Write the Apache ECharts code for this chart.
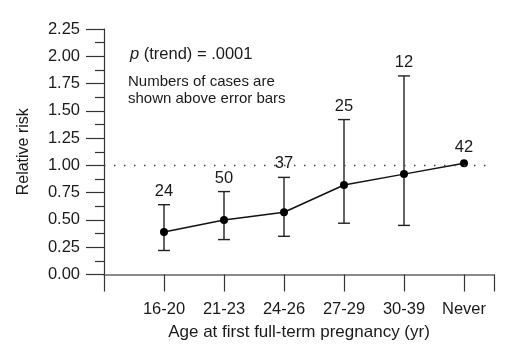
<!DOCTYPE html>
<html><head><meta charset="utf-8">
<script src="https://cdn.jsdelivr.net/npm/echarts@6/dist/echarts.min.js"></script>
<style>html,body{margin:0;padding:0;background:#fff}#c{width:512px;height:360px}</style>
</head><body><div id="c"></div>
<script>
var categories = ['16-20', '21-23', '24-26', '27-29', '30-39', 'Never'];
var relativeRisk = [0.39, 0.50, 0.57, 0.82, 0.92, 1.02];
var lowerCI = [0.22, 0.32, 0.35, 0.47, 0.45, null];
var upperCI = [0.64, 0.76, 0.89, 1.42, 1.82, null];
var cases = [24, 50, 37, 25, 12, 42];
var yTicks = ['0.00','0.25','0.50','0.75','1.00','1.25','1.50','1.75','2.00','2.25'];

var FONT = 'Liberation Sans, Arial, sans-serif';
var INK = '#1a1a1a';

var pts = relativeRisk.map(function (v, i) { return [i + 1, v]; });
var errData = categories.map(function (c, i) { return [i + 1, lowerCI[i], upperCI[i], relativeRisk[i], cases[i]]; });

var chart = echarts.init(document.getElementById('c'), null, {renderer: 'canvas'});
chart.setOption({
  animation: false,
  backgroundColor: '#fff',
  grid: {left: 104, right: 18, top: 29, bottom: 85.5, containLabel: false},
  xAxis: {
    type: 'value', min: 0, max: 6.5, interval: 1,
    axisLine: {show: true, lineStyle: {color: '#666', width: 1.6}},
    axisTick: {show: true, inside: false, length: 17, lineStyle: {color: '#333', width: 1.2}},
    splitLine: {show: false},
    axisLabel: {
      margin: 26, color: INK, fontFamily: FONT, fontSize: 16.5,
      formatter: function (v) { var i = Math.round(v) - 1; return (i >= 0 && i < categories.length) ? categories[i] : ''; }
    },
    name: 'Age at first full-term pregnancy (yr)', nameLocation: 'middle', nameGap: 49,
    nameTextStyle: {color: INK, fontFamily: FONT, fontSize: 17}
  },
  yAxis: {
    type: 'value', min: 0, max: 2.25, interval: 0.25,
    axisLine: {show: true, lineStyle: {color: '#333', width: 1.2}},
    axisTick: {show: true, inside: false, length: 18, lineStyle: {color: '#333', width: 1.2}},
    minorTick: {show: true, splitNumber: 2, length: 9, lineStyle: {color: '#333', width: 1.2}},
    splitLine: {show: false},
    axisLabel: {
      margin: 24, color: INK, fontFamily: FONT, fontSize: 16.5,
      formatter: function (v) { return yTicks[Math.round(v / 0.25)]; }
    },
    name: 'Relative risk', nameLocation: 'middle', nameGap: 72,
    nameTextStyle: {color: INK, fontFamily: FONT, fontSize: 16}
  },
  graphic: [
    {type: 'text', left: 130, top: 46, style: {
      text: '{i|p} (trend) = .0001', font: '16.5px ' + FONT, fill: INK,
      rich: {i: {fontStyle: 'italic', fontSize: 16.5, fontFamily: FONT, fill: INK}}
    }},
    {type: 'text', left: 128, top: 74, style: {
      text: 'Numbers of cases are\nshown above error bars', font: '15px ' + FONT, fill: INK, lineHeight: 16.5
    }}
  ],
  series: [
    {
      type: 'line', data: pts, symbol: 'circle', symbolSize: 8,
      itemStyle: {color: '#000'}, lineStyle: {color: '#111', width: 1.5},
      markLine: {
        silent: true, symbol: 'none', label: {show: false},
        lineStyle: {type: [1.5, 8.5], color: '#444', width: 1.3},
        data: [[{coord: [0, 1]}, {coord: [6.4, 1]}]]
      },
      z: 3
    },
    {
      type: 'custom', data: errData, z: 2,
      encode: {x: 0, y: [1, 2]},
      renderItem: function (params, api) {
        var x = api.value(0), lo = api.value(1), hi = api.value(2), mid = api.value(3), n = api.value(4);
        var children = [];
        var hw = 6;
        var top;
        if (lo != null && !isNaN(lo) && hi != null && !isNaN(hi)) {
          var pLo = api.coord([x, lo]), pHi = api.coord([x, hi]);
          var st = {stroke: '#222', lineWidth: 1.4};
          children.push({type: 'line', shape: {x1: pLo[0], y1: pLo[1], x2: pHi[0], y2: pHi[1]}, style: st});
          children.push({type: 'line', shape: {x1: pLo[0] - hw, y1: pLo[1], x2: pLo[0] + hw, y2: pLo[1]}, style: st});
          children.push({type: 'line', shape: {x1: pHi[0] - hw, y1: pHi[1], x2: pHi[0] + hw, y2: pHi[1]}, style: st});
          top = pHi[1] - 5;
        } else {
          top = api.coord([x, mid])[1] - 7;
        }
        children.push({type: 'text', style: {
          text: String(n), x: api.coord([x, mid])[0], y: top,
          textAlign: 'center', textVerticalAlign: 'bottom', font: '16.5px ' + FONT, fill: INK
        }});
        return {type: 'group', children: children};
      }
    }
  ]
});
</script></body></html>
